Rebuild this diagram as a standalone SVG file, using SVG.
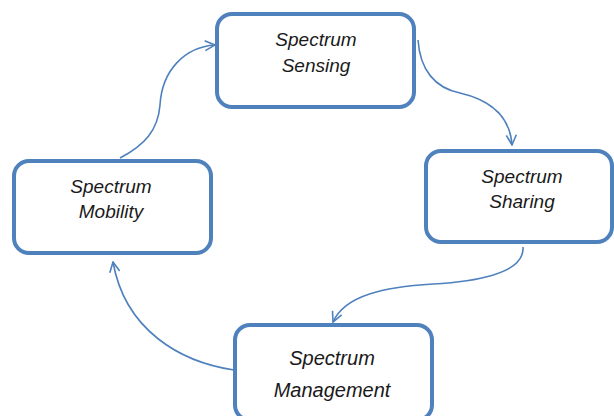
<svg xmlns="http://www.w3.org/2000/svg" width="614" height="416" viewBox="0 0 614 416">
<defs>
<style>
.box{fill:#fff;stroke:#4f81bd;stroke-width:4}
.lbl{font-family:"Liberation Sans",Arial,sans-serif;font-style:italic;font-size:19px;fill:#1a1a1a;text-anchor:middle}
.big{font-size:20px}
.con{fill:none;stroke:#4f81bd;stroke-width:1.6}
</style>
<marker id="arr" viewBox="0 0 12 12" refX="11" refY="6" markerWidth="12" markerHeight="12" markerUnits="userSpaceOnUse" orient="auto">
<path d="M1,1 L11,6 L1,11" fill="none" stroke="#4f81bd" stroke-width="1.6"/>
</marker>
</defs>
<rect width="614" height="416" fill="#fff"/>
<g id="connectors">
<path class="con" d="M120,158 C145,145 158,130 160,105 C162,70 185,47 215,45" marker-end="url(#arr)"/>
<path class="con" d="M418,40 C420,70 435,88 460,93 C490,100 510,115 512,145" marker-end="url(#arr)"/>
<path class="con" d="M523,247 C525,275 470,282 433,284 C385,287 345,295 333,322" marker-end="url(#arr)"/>
<path class="con" d="M234,370 C180,362 125,330 113,262" marker-end="url(#arr)"/>
</g>
<g id="sensing">
<rect class="box" x="217" y="14" width="197" height="93" rx="15"/>
<text class="lbl" x="316" y="46">Spectrum</text>
<text class="lbl" x="316" y="72">Sensing</text>
</g>
<g id="sharing">
<rect class="box" x="426" y="151" width="186" height="91" rx="15"/>
<text class="lbl" x="522" y="183">Spectrum</text>
<text class="lbl" x="522" y="208">Sharing</text>
</g>
<g id="management">
<rect class="box" x="235" y="325" width="197" height="95" rx="15"/>
<text class="lbl big" x="332" y="365">Spectrum</text>
<text class="lbl big" x="332" y="397">Management</text>
</g>
<g id="mobility">
<rect class="box" x="14" y="161" width="197" height="92" rx="15"/>
<text class="lbl" x="111" y="193">Spectrum</text>
<text class="lbl" x="111" y="218">Mobility</text>
</g>
</svg>
